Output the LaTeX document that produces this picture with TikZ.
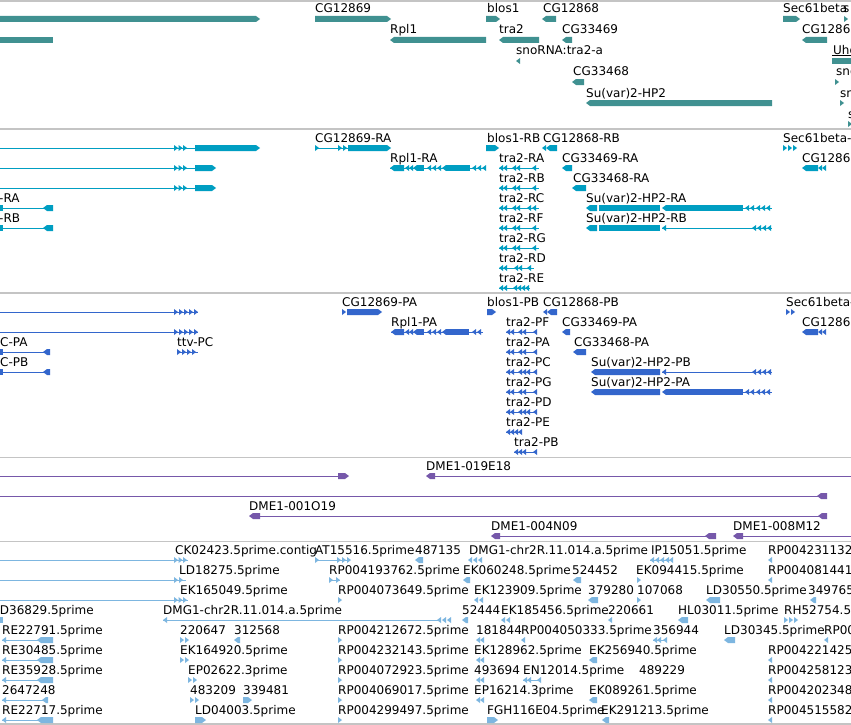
\documentclass[tikz,border=0pt]{standalone}
\usepackage{fontspec}
\newfontfamily\browserfont{DejaVu Sans}
\definecolor{genecol}{RGB}{64,145,145}
\definecolor{rnacol}{RGB}{0,158,194}
\definecolor{protcol}{RGB}{51,102,204}
\definecolor{clonecol}{RGB}{118,88,170}
\definecolor{estcol}{RGB}{125,182,224}
\definecolor{sepgray}{RGB}{196,196,196}
\tikzstyle{lbl} = [anchor=base west, inner sep=0pt, text=black, font=\browserfont\fontsize{12}{14}\selectfont]
\tikzstyle{sepline} = [sepgray, line width=1.2pt]
% feature glyphs, x and y in pixels, y grows downwards
\newcommand{\exonbox}[3]{\fill (#1,#3-3) rectangle (#2,#3+3);}
\newcommand{\exonfwd}[3]{\fill (#1,#3-3) -- (#2-4,#3-3) -- (#2,#3) -- (#2-4,#3+3) -- (#1,#3+3) -- cycle;}
\newcommand{\exonrev}[3]{\fill (#2,#3-3) -- (#1+4,#3-3) -- (#1,#3) -- (#1+4,#3+3) -- (#2,#3+3) -- cycle;}
\newcommand{\tipfwd}[2]{\fill (#1,#2-3) -- (#1+4,#2) -- (#1,#2+3) -- cycle;}
\newcommand{\tiprev}[2]{\fill (#1+4,#2-3) -- (#1,#2) -- (#1+4,#2+3) -- cycle;}
\newcommand{\fwdtips}[2]{\foreach \k in {#1}{\tipfwd{\k}{#2}}}
\newcommand{\revtips}[2]{\foreach \k in {#1}{\tiprev{\k}{#2}}}
\newcommand{\intron}[3]{\draw[line width=1pt] (#1,#3) -- (#2,#3);}
\newcommand{\lab}[4]{\node[lbl] (#1) at (#2,#3-6) {#4};}

\begin{document}
\begin{tikzpicture}[x=1pt,y=-1pt]
\clip (0,0) rectangle (851,725);
\fill[white] (0,0) rectangle (851,725);

% track separators
\foreach \s in {1,129,293,457.5,541.5,724}
  \draw[sepline] (0,\s) -- (851,\s);

% genes
\begin{scope}[color=genecol]
\exonfwd{-5}{260}{19}
\exonbox{-5}{53}{40}
\lab{g-cg12869}{315}{19}{CG12869}   \exonfwd{315}{391}{19}
\lab{g-rpl1}{390}{40}{Rpl1}         \exonrev{390}{486}{40}
\lab{g-blos1}{487}{19}{blos1}       \exonfwd{486}{500}{19}
\lab{g-cg12868}{543}{19}{CG12868}   \exonrev{542}{556}{19}
\lab{g-tra2}{499}{40}{tra2}         \exonrev{499}{539}{40}
\lab{g-cg33469}{562}{40}{CG33469}   \exonrev{562}{572}{40}
\lab{g-sno}{516}{61}{snoRNA:tra2-a} \tiprev{516}{61}
\lab{g-cg33468}{573}{82}{CG33468}   \exonrev{572}{584}{82}
\lab{g-suvar}{586}{103}{Su(var)2-HP2} \exonrev{586}{772}{103}
\lab{g-sec61}{783}{19}{Sec61beta}   \exonfwd{783}{800}{19}
\lab{g-s1}{843}{19}{s}              \tipfwd{844}{19}
\lab{g-cg1286}{802}{40}{CG1286}     \exonrev{802}{827}{40}
\lab{g-uhg}{833}{61}{Uhg}           \exonbox{832}{856}{61}
\draw[black, line width=0.8pt] (832,55.5) -- (851,55.5);
\lab{g-sno2}{836}{82}{sno}          \tipfwd{835}{82}
\lab{g-sno3}{840}{103}{sn}          \tipfwd{840}{103}
\lab{g-sno4}{848}{124}{s}           \tipfwd{848}{124}
\end{scope}

% transcripts
\begin{scope}[color=rnacol]
\intron{0}{195}{148} \fwdtips{174,178.5,183}{148} \exonfwd{195}{260}{148}
\intron{0}{195}{168} \fwdtips{174,178.5,183}{168} \exonfwd{195}{216}{168}
\intron{0}{195}{188} \fwdtips{174,178.5,183}{188} \exonfwd{195}{216}{188}
\lab{t-ra}{-1}{208}{-RA} \exonbox{-2}{3}{208} \intron{3}{45}{208} \exonrev{43}{53}{208}
\lab{t-rb}{-1}{228}{-RB} \exonbox{-2}{3}{228} \intron{3}{45}{228} \exonrev{43}{53}{228}
\lab{t-cg12869}{315}{148}{CG12869-RA}
\tipfwd{315}{148} \intron{315}{348}{148} \fwdtips{338,343}{148} \exonfwd{348}{391}{148}
\lab{t-rpl1}{390}{168}{Rpl1-RA}
\intron{390}{486}{168} \exonrev{390}{404}{168} \revtips{405,409,413}{168} \exonbox{417}{424}{168}
\revtips{427,432,437,442}{168} \exonbox{446}{470}{168} \revtips{472,477,482}{168}
\lab{t-blos1}{487}{148}{blos1-RB}   \exonfwd{486}{499}{148}
\lab{t-cg12868}{543}{148}{CG12868-RB} \tiprev{542}{148} \exonrev{546}{557}{148}
\lab{t-tra2a}{499}{168}{tra2-RA} \intron{499}{539}{168} \revtips{499,503,512,516,532}{168}
\lab{t-tra2b}{499}{188}{tra2-RB} \intron{499}{539}{188} \revtips{499,503,512,516,532}{188}
\lab{t-tra2c}{499}{208}{tra2-RC} \intron{499}{539}{208} \revtips{499,503,512,516,527,532}{208}
\lab{t-tra2f}{499}{228}{tra2-RF} \intron{499}{539}{228} \revtips{499,503,512,516,532}{228}
\lab{t-tra2g}{499}{248}{tra2-RG} \intron{499}{539}{248} \revtips{499,503,512,516,532}{248}
\lab{t-tra2d}{499}{268}{tra2-RD} \intron{499}{534}{268} \revtips{499,503,514,518,527}{268}
\lab{t-tra2e}{499}{288}{tra2-RE} \intron{499}{530}{288} \revtips{499,503,513,517,521,525}{288}
\lab{t-cg33469}{562}{168}{CG33469-RA} \exonrev{562}{572}{168}
\lab{t-cg33468}{573}{188}{CG33468-RA} \exonrev{572}{586}{188}
\lab{t-suvara}{586}{208}{Su(var)2-HP2-RA}
\exonrev{586}{597}{208} \exonbox{599}{660}{208} \tiprev{662}{208} \exonbox{666}{743}{208}
\intron{743}{772}{208} \revtips{745,750,756,761,766}{208}
\lab{t-suvarb}{586}{228}{Su(var)2-HP2-RB}
\exonrev{586}{597}{228} \exonbox{599}{660}{228} \tiprev{662}{228}
\intron{662}{772}{228} \revtips{752,757,762,767}{228}
\lab{t-sec61}{783}{148}{Sec61beta-} \fwdtips{783,788,793}{148}
\lab{t-cg1286}{802}{168}{CG1286}    \exonrev{802}{818}{168} \revtips{818,822}{168}
\end{scope}

% proteins
\begin{scope}[color=protcol]
\intron{0}{198}{312} \fwdtips{174,179,184,189,194}{312}
\intron{0}{198}{332} \fwdtips{174,179,184,189,194}{332}
\lab{p-pa}{0}{352}{C-PA} \exonbox{-2}{3}{352} \intron{3}{45}{352} \exonrev{43}{50}{352}
\lab{p-pb}{0}{372}{C-PB} \exonbox{-2}{3}{372} \intron{3}{45}{372} \exonrev{43}{50}{372}
\lab{p-ttv}{177}{352}{ttv-PC} \intron{177}{198}{352} \fwdtips{177,182,187,192}{352}
\lab{p-cg12869}{342}{312}{CG12869-PA} \tipfwd{342}{312} \exonfwd{347}{382}{312}
\lab{p-rpl1}{391}{332}{Rpl1-PA}
\intron{391}{483}{332} \exonrev{391}{404}{332} \revtips{405,409,413}{332} \exonbox{417}{424}{332}
\revtips{427,432,437,442}{332} \exonbox{446}{469}{332} \revtips{472,477}{332}
\lab{p-blos1}{487}{312}{blos1-PB}   \exonfwd{487}{496}{312}
\lab{p-cg12868}{543}{312}{CG12868-PB} \tiprev{543}{312} \exonrev{547}{557}{312}
\lab{p-tra2f}{506}{332}{tra2-PF} \intron{506}{537}{332} \revtips{506,510,518,522,533}{332}
\lab{p-tra2a}{506}{352}{tra2-PA} \intron{506}{537}{352} \revtips{506,510,518,522,533}{352}
\lab{p-tra2c}{506}{372}{tra2-PC} \intron{506}{537}{372} \revtips{506,510,518,522,526,533}{372}
\lab{p-tra2g}{506}{392}{tra2-PG} \intron{506}{537}{392} \revtips{506,510,518,522,533}{392}
\lab{p-tra2d}{506}{412}{tra2-PD} \intron{506}{537}{412} \revtips{506,510,518,522,526,533}{412}
\lab{p-tra2e}{506}{432}{tra2-PE} \intron{506}{522}{432} \revtips{506,510,514,518}{432}
\lab{p-tra2b}{514}{452}{tra2-PB} \intron{514}{537}{452} \revtips{514,518,522,533}{452}
\lab{p-cg33469}{562}{332}{CG33469-PA} \exonrev{562}{570}{332}
\lab{p-cg33468}{574}{352}{CG33468-PA} \exonrev{573}{586}{352}
\lab{p-suvarb}{591}{372}{Su(var)2-HP2-PB}
\exonrev{591}{660}{372} \tiprev{662}{372} \intron{662}{772}{372} \revtips{752,757,762,767}{372}
\lab{p-suvara}{591}{392}{Su(var)2-HP2-PA}
\exonrev{591}{660}{392} \tiprev{662}{392} \exonbox{666}{743}{392}
\intron{743}{772}{392} \revtips{745,750,756,761,766}{392}
\lab{p-sec61}{786}{312}{Sec61beta-} \fwdtips{786,791}{312}
\lab{p-cg1286}{802}{332}{CG1286}    \exonrev{802}{818}{332} \revtips{818,822}{332}
\end{scope}

% BAC clones
\begin{scope}[color=clonecol]
\intron{0}{345}{476} \exonfwd{338}{349}{476}
\lab{c-019e18}{426}{476}{DME1-019E18} \exonrev{426}{435}{476} \intron{435}{851}{476}
\intron{0}{820}{496} \exonrev{817}{827}{496}
\lab{c-001o19}{249}{516}{DME1-001O19} \exonrev{249}{260}{516} \intron{260}{820}{516} \exonrev{818}{827}{516}
\lab{c-004n09}{491}{536}{DME1-004N09} \exonrev{491}{500}{536} \intron{500}{710}{536} \exonrev{705}{716}{536}
\lab{c-008m12}{733}{536}{DME1-008M12} \exonrev{733}{743}{536} \intron{743}{851}{536}
\end{scope}

% ESTs
\begin{scope}[color=estcol]
\intron{0}{188}{560} \fwdtips{174,178.5,183}{560}
\intron{0}{186}{580} \fwdtips{174,179}{580}
\intron{0}{188}{600} \fwdtips{174,178.5,183}{600}
\lab{e-ck02423}{175}{560}{CK02423.5prime.contig}
\lab{e-at15516}{315}{560}{AT15516.5prime} \tipfwd{315}{560} \intron{315}{350}{560} \fwdtips{337,342,347}{560}
\lab{e-487135}{415}{560}{487135} \exonrev{415}{423}{560}
\lab{e-dmg1a}{469}{560}{DMG1-chr2R.11.014.a.5prime} \revtips{468,473,478}{560}
\lab{e-ip15051}{651}{560}{IP15051.5prime} \intron{650}{672}{560} \revtips{650,655,660,665,669}{560}
\lab{e-rp423}{768}{560}{RP004231132.5prime} \tiprev{768}{560}
\lab{e-ld18275}{179}{580}{LD18275.5prime}
\lab{e-rp419}{329}{580}{RP004193762.5prime} \intron{329}{340}{580} \fwdtips{329,336}{580}
\lab{e-ek060248}{463}{580}{EK060248.5prime} \exonrev{463}{470}{580}
\lab{e-524452}{572}{580}{524452} \exonrev{573}{581}{580}
\lab{e-ek094415}{636}{580}{EK094415.5prime} \tipfwd{637}{580}
\lab{e-rp408}{768}{580}{RP004081441.5prime} \tiprev{768}{580}
\lab{e-ek165049}{180}{600}{EK165049.5prime}
\lab{e-rp407a}{338}{600}{RP004073649.5prime} \tipfwd{338}{600}
\lab{e-ek123909}{474}{600}{EK123909.5prime} \revtips{474,479}{600}
\lab{e-379280}{588}{600}{379280} \exonrev{588}{598}{600}
\lab{e-107068}{637}{600}{107068} \tipfwd{637}{600}
\lab{e-ld30550}{706}{600}{LD30550.5prime} \exonrev{706}{720}{600}
\lab{e-349765}{808}{600}{349765} \exonrev{810}{816}{600}
\lab{e-ld36829}{-7}{620}{LD36829.5prime} \exonbox{-2}{3}{620}
\lab{e-dmg1b}{163}{620}{DMG1-chr2R.11.014.a.5prime} \tiprev{163}{620} \intron{163}{440}{620} \revtips{437,442,447}{620}
\lab{e-52444}{462}{620}{52444} \exonrev{462}{468}{620}
\lab{e-ek185456}{501}{620}{EK185456.5prime} \revtips{501,506}{620}
\lab{e-220661}{608}{620}{220661} \tiprev{608}{620}
\lab{e-hl03011}{678}{620}{HL03011.5prime} \exonrev{678}{688}{620}
\lab{e-rh52754}{784}{620}{RH52754.5prime} \fwdtips{784,789,794}{620}
% RE rows on the left
\foreach \r/\n/\t in {640/a/RE22791.5prime, 660/b/RE30485.5prime, 680/c/RE35928.5prime, 720/d/RE22717.5prime}{
  \lab{e-re\n}{2}{\r}{\t} \tiprev{2}{\r} \intron{2}{40}{\r} \exonrev{37}{53}{\r}
}
\lab{e-2647248}{2}{700}{2647248} \tiprev{2}{700} \intron{2}{44}{700} \exonrev{42}{48}{700}
\lab{e-220647}{180}{640}{220647} \fwdtips{180,185}{640}
\lab{e-312568}{234}{640}{312568} \exonrev{234}{240}{640}
\lab{e-181844}{476}{640}{181844} \revtips{476,480}{640}
\lab{e-rp405}{521}{640}{RP004050333.5prime} \tiprev{521}{640}
\lab{e-356944}{653}{640}{356944} \intron{653}{667}{640} \revtips{653,657,663}{640}
\lab{e-ld30345}{724}{640}{LD30345.5prime} \exonrev{724}{735}{640}
\lab{e-rp00}{824}{640}{RP004108.5prime} \tiprev{824}{640}
\lab{e-ek164920}{180}{660}{EK164920.5prime} \fwdtips{180,185}{660}
\lab{e-ek128962}{474}{660}{EK128962.5prime} \revtips{476,480}{660}
\lab{e-ek256940}{589}{660}{EK256940.5prime} \exonrev{589}{597}{660}
\lab{e-ep02622}{188}{680}{EP02622.3prime} \fwdtips{188,193}{680}
\lab{e-493694}{474}{680}{493694} \revtips{476,480}{680}
\lab{e-en12014}{523}{680}{EN12014.5prime} \intron{523}{541}{680} \revtips{523,527,537}{680}
\lab{e-489229}{639}{680}{489229}
\lab{e-483209}{190}{700}{483209} \fwdtips{190,195}{700}
\lab{e-339481}{243}{700}{339481} \exonfwd{243}{252}{700}
\lab{e-ep16214}{474}{700}{EP16214.3prime} \revtips{476,480}{700}
\lab{e-ek089261}{589}{700}{EK089261.5prime} \exonrev{589}{597}{700}
\lab{e-ld04003}{195}{720}{LD04003.5prime} \exonfwd{195}{206}{720}
\lab{e-fgh116}{487}{720}{FGH116E04.5prime} \exonfwd{487}{498}{720}
\lab{e-ek291213}{601}{720}{EK291213.5prime} \exonrev{602}{609}{720}
% RP column at 338 and 768
\foreach \r/\n/\t in {640/a/RP004212672.5prime, 660/b/RP004232143.5prime, 680/c/RP004072923.5prime,
                      700/d/RP004069017.5prime, 720/e/RP004299497.5prime}{
  \lab{e-rpl\n}{338}{\r}{\t} \tipfwd{338}{\r}
}
\foreach \r/\n/\t in {660/a/RP004221425.5prime, 680/b/RP004258123.5prime, 700/c/RP004202348.5prime,
                      720/d/RP004515582.5prime}{
  \lab{e-rpr\n}{768}{\r}{\t} \tiprev{768}{\r}
}
\end{scope}
\end{tikzpicture}
\end{document}
